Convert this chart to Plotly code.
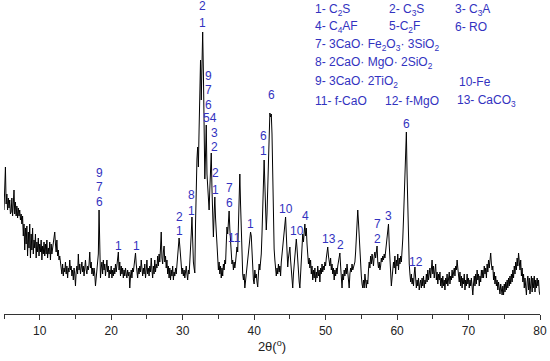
import numpy as np
import plotly.graph_objects as go

# XRD pattern sampled every 0.1 deg from 5.0 to 80.0 (one row per degree)
intensity_rows = [
    [104, 122, 147, 110, 120, 104, 116, 106, 114, 100],   # 5
    [102, 116, 98, 110, 124, 100, 112, 98, 108, 96],      # 6
    [106, 98, 104, 94, 100, 90, 98, 78, 90, 64],          # 7
    [86, 70, 88, 58, 82, 66, 90, 56, 80, 64],             # 8
    [86, 60, 74, 66, 80, 56, 72, 62, 76, 58],             # 9
    [70, 62, 74, 54, 68, 60, 72, 58, 70, 60],             # 10
    [74, 56, 66, 60, 72, 54, 70, 60, 66, 72],             # 11
    [76, 82, 70, 62, 74, 58, 64, 54, 58, 48],             # 12
    [46, 40, 50, 38, 46, 42, 52, 40, 48, 36],             # 13
    [46, 42, 54, 44, 48, 38, 44, 34, 46, 40],             # 14
    [28, 42, 48, 40, 60, 44, 50, 40, 46, 52],             # 15
    [42, 48, 38, 46, 54, 44, 40, 48, 44, 50],             # 16
    [62, 46, 52, 40, 46, 38, 46, 40, 28, 36],             # 17
    [42, 48, 60, 104, 48, 36, 46, 52, 40, 54],            # 18
    [44, 50, 38, 46, 54, 42, 48, 36, 44, 40],             # 19
    [48, 36, 44, 38, 46, 40, 50, 42, 48, 54],             # 20
    [62, 44, 52, 38, 48, 40, 46, 36, 44, 38],             # 21
    [46, 40, 36, 44, 38, 42, 26, 38, 44, 36],             # 22
    [46, 42, 50, 56, 61, 50, 44, 36, 46, 40],             # 23
    [48, 42, 54, 44, 38, 46, 40, 50, 36, 44],             # 24
    [54, 40, 46, 38, 48, 42, 56, 44, 36, 48],             # 25
    [40, 54, 42, 50, 46, 58, 48, 60, 52, 66],             # 26
    [82, 56, 50, 62, 68, 52, 58, 46, 54, 40],             # 27
    [48, 36, 46, 34, 44, 38, 48, 34, 42, 38],             # 28
    [46, 40, 52, 62, 70, 76, 68, 58, 48, 40],             # 29
    [46, 38, 44, 36, 42, 48, 40, 34, 44, 40],             # 30
    [52, 62, 80, 97, 70, 52, 46, 41, 90, 130],            # 31
    [155, 167, 147, 185, 225, 254, 214, 250, 282, 243],   # 32
    [204, 135, 160, 189, 140, 125, 112, 104, 125, 145],   # 33
    [161, 125, 95, 77, 100, 117, 96, 80, 74, 56],         # 34
    [44, 52, 40, 48, 36, 46, 38, 50, 44, 54],             # 35
    [50, 70, 87, 80, 95, 103, 85, 70, 56, 50],            # 36
    [54, 44, 52, 46, 52, 60, 67, 62, 95, 125],            # 37
    [140, 110, 80, 55, 40, 34, 40, 26, 34, 40],           # 38
    [44, 50, 60, 68, 76, 82, 78, 60, 44, 34],             # 39
    [30, 44, 36, 40, 32, 27, 40, 50, 44, 52],             # 40
    [60, 80, 110, 135, 154, 130, 100, 84, 100, 130],      # 41
    [165, 190, 201, 197, 200, 180, 130, 90, 65, 54],      # 42
    [44, 38, 46, 40, 50, 42, 48, 38, 52, 60],             # 43
    [70, 78, 86, 92, 97, 80, 60, 47, 56, 64],             # 44
    [67, 54, 44, 36, 26, 40, 50, 60, 68, 75],             # 45
    [66, 52, 40, 32, 26, 40, 60, 70, 80, 72],             # 46
    [84, 90, 78, 86, 70, 62, 50, 56, 46, 54],             # 47
    [40, 48, 34, 44, 36, 46, 32, 42, 36, 48],             # 48
    [38, 44, 32, 46, 40, 50, 42, 48, 44, 52],             # 49
    [48, 56, 62, 67, 58, 54, 48, 56, 44, 50],             # 50
    [40, 46, 34, 44, 38, 46, 40, 48, 52, 56],             # 51
    [61, 48, 36, 26, 40, 34, 44, 38, 46, 40],             # 52
    [50, 42, 30, 26, 40, 46, 42, 50, 44, 48],             # 53
    [48, 52, 62, 76, 90, 104, 92, 76, 60, 46],            # 54
    [38, 30, 26, 34, 26, 40, 30, 26, 34, 30],             # 55
    [44, 52, 46, 58, 50, 60, 54, 48, 58, 62],             # 56
    [56, 62, 68, 52, 46, 52, 44, 48, 56, 52],             # 57
    [58, 54, 60, 56, 62, 66, 74, 84, 90, 70],             # 58
    [50, 36, 28, 36, 44, 52, 46, 58, 40, 54],             # 59
    [48, 60, 44, 56, 50, 58, 52, 62, 75, 95],             # 60
    [115, 140, 165, 182, 140, 100, 70, 50, 40, 32],       # 61
    [40, 30, 36, 28, 40, 47, 36, 26, 34, 28],             # 62
    [36, 24, 30, 34, 26, 36, 28, 38, 26, 34],             # 63
    [30, 40, 32, 44, 34, 40, 46, 36, 42, 54],             # 64
    [40, 48, 36, 44, 50, 34, 42, 30, 40, 34],             # 65
    [42, 28, 36, 26, 38, 28, 34, 24, 36, 30],             # 66
    [40, 28, 36, 42, 30, 38, 34, 44, 36, 40],             # 67
    [46, 38, 48, 44, 54, 46, 40, 32, 42, 28],             # 68
    [38, 26, 36, 30, 40, 24, 34, 28, 40, 30],             # 69
    [36, 26, 34, 28, 36, 22, 19, 30, 38, 28],             # 70
    [40, 30, 44, 34, 40, 28, 38, 32, 44, 36],             # 71
    [44, 36, 48, 40, 46, 36, 50, 42, 54, 46],             # 72
    [56, 61, 50, 44, 48, 34, 42, 30, 38, 28],             # 73
    [34, 24, 32, 26, 20, 30, 22, 19, 28, 19],             # 74
    [30, 22, 32, 24, 34, 26, 36, 28, 38, 30],             # 75
    [40, 32, 44, 36, 48, 40, 52, 44, 56, 48],             # 76
    [61, 50, 44, 54, 38, 46, 32, 40, 26, 36],             # 77
    [22, 19, 32, 38, 24, 36, 20, 32, 38, 22],             # 78
    [36, 26, 38, 22, 34, 26, 36, 28, 34, 22],             # 79
    [19],                                                 # 80
]
intensity = [v for row in intensity_rows for v in row]
two_theta = np.round(5.0 + 0.1 * np.arange(len(intensity)), 2)

# Peak labels: text, 2theta, intensity of the label centre
label_text = ["9", "7", "6", "1", "1", "2", "1", "8", "1", "2", "1",
              "9", "7", "6", "54", "3", "2", "2", "1", "7", "6", "11", "1",
              "6", "1", "6", "10", "10", "4", "13", "2", "7", "2", "3", "6", "12"]
label_x = [18.43, 18.43, 18.43, 21.09, 23.47, 29.49, 29.49, 31.30, 31.30, 32.75, 32.75,
           33.63, 33.63, 33.63, 33.89, 34.41, 34.41, 34.66, 34.66, 36.52, 36.52, 37.22, 39.56,
           41.28, 41.28, 42.36, 44.42, 45.95, 47.12, 50.52, 52.15, 57.23, 57.23, 58.77, 61.35, 62.58]
label_y = [141, 127, 112, 68, 68, 97, 83, 119, 103, 308, 291,
           238, 224, 209, 196, 181, 167, 141, 124, 126, 111, 76, 90,
           178, 163, 219, 105, 83, 98, 75, 69, 90, 75, 98, 190, 52]

# Phase key
key_text = ["1- C<sub>2</sub>S", "2- C<sub>3</sub>S", "3- C<sub>3</sub>A",
            "4- C<sub>4</sub>AF", "5-C<sub>2</sub>F", "6- RO",
            "7- 3CaO· Fe<sub>2</sub>O<sub>3</sub>· 3SiO<sub>2</sub>",
            "8- 2CaO· MgO· 2SiO<sub>2</sub>",
            "9- 3CaO· 2TiO<sub>2</sub>", "10-Fe",
            "11- f-CaO", "12- f-MgO", "13- CaCO<sub>3</sub>"]
key_x = [48.28, 58.55, 67.87, 48.28, 58.55, 67.87, 48.28, 48.28, 48.28, 68.34, 48.28, 57.99, 68.10]
key_y = [304, 304, 304, 287, 287, 287, 269, 251, 232, 232, 213, 213, 213]

blue = "#3232c0"
font_family = "Arial, Liberation Sans, sans-serif"

fig = go.Figure()
fig.add_trace(go.Scatter(x=two_theta, y=intensity, mode="lines",
                         line=dict(color="#000000", width=1), hoverinfo="skip"))

annotations = []
for t, x, y in zip(label_text, label_x, label_y):
    annotations.append(dict(x=x, y=y, xref="x", yref="y", text=t, showarrow=False,
                            xanchor="center", yanchor="middle",
                            font=dict(family=font_family, size=12, color=blue)))
for t, x, y in zip(key_text, key_x, key_y):
    annotations.append(dict(x=x, y=y, xref="x", yref="y", text=t, showarrow=False,
                            xanchor="left", yanchor="middle",
                            font=dict(family=font_family, size=12, color=blue)))

fig.update_layout(
    width=550, height=361,
    margin=dict(l=4, r=10, t=0, b=47),
    paper_bgcolor="white", plot_bgcolor="white",
    showlegend=False,
    hovermode=False,
    annotations=annotations,
    xaxis=dict(range=[5, 80], tick0=0, dtick=10, ticks="outside", ticklen=5,
               tickwidth=1, tickcolor="#333333", showline=True, linecolor="#333333",
               linewidth=1.3, showgrid=False, zeroline=False, automargin=False,
               tickfont=dict(family=font_family, size=12, color="#222222"),
               minor=dict(dtick=5, ticks="outside", ticklen=4, tickcolor="#333333"),
               title=dict(text="2θ(<sup>o</sup>)", standoff=4,
                          font=dict(family=font_family, size=13, color="#222222"))),
    yaxis=dict(range=[0, 314], visible=False, fixedrange=True),
)

fig.write_html("out.html", config={"displayModeBar": False, "staticPlot": True},
               post_script="document.body.style.margin='0px';")
